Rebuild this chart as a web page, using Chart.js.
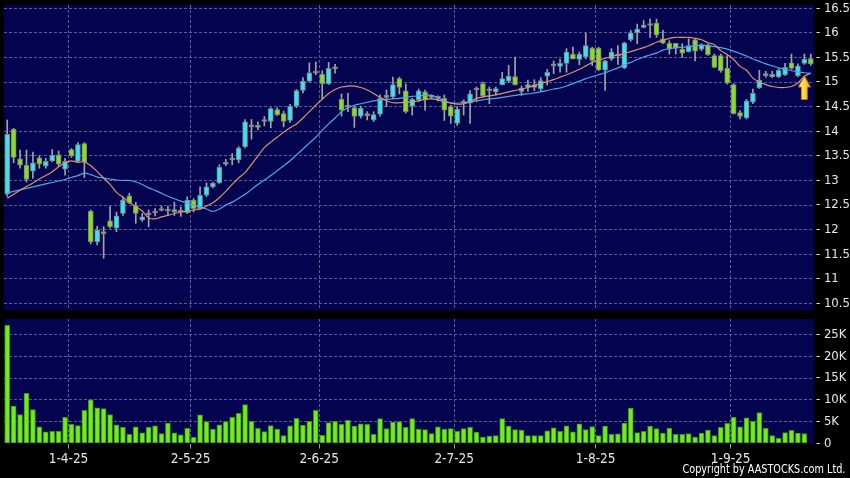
<!DOCTYPE html>
<html>
<head>
<meta charset="utf-8">
<script src="https://cdn.jsdelivr.net/npm/chart.js@4.4.1/dist/chart.umd.min.js"></script>
<style>
  html, body { margin: 0; padding: 0; background: #000; }
  body { width: 850px; height: 478px; position: relative; overflow: hidden; }
  #priceChart { position: absolute; left: 0; top: 0; }
  #volumeChart { position: absolute; left: 0; top: 314px; }
  #copy {
    position: absolute; right: 5px; top: 461px; color: #fff;
    font: 12.5px "DejaVu Sans Condensed", "DejaVu Sans", sans-serif;
    transform: scaleX(0.86); transform-origin: right top; white-space: nowrap;
  }
</style>
</head>
<body>
<canvas id="priceChart" width="850" height="312"></canvas>
<canvas id="volumeChart" width="850" height="164"></canvas>
<div id="copy">Copyright by AASTOCKS.com Ltd.</div>
<script>
// daily OHLC (126 sessions)
const opens = [
  12.72, 14.04, 13.44, 13.31, 13.19, 13.46, 13.29, 13.40, 13.52, 13.23,
  13.63, 13.39, 13.75, 12.38, 11.75, 11.92, 12.18, 12.03, 12.33, 12.69,
  12.49, 12.20, 12.30, 12.34, 12.39, 12.38, 12.36, 12.36, 12.34, 12.60,
  12.43, 12.70, 12.87, 12.95, 13.33, 13.42, 13.42, 13.69, 14.09, 14.12,
  14.20, 14.20, 14.44, 14.36, 14.22, 14.51, 14.83, 15.02, 15.18, 15.16,
  14.97, 15.28, 14.65, 14.49, 14.48, 14.31, 14.32, 14.23, 14.35, 14.69,
  14.70, 15.07, 14.82, 14.51, 14.64, 14.80, 14.69, 14.67, 14.67, 14.50,
  14.16, 14.57, 14.57, 14.84, 14.97, 14.82, 14.80, 14.95, 15.02, 15.11,
  14.81, 14.89, 14.89, 14.86, 15.12, 15.33, 15.32, 15.38, 15.57, 15.46,
  15.51, 15.69, 15.69, 15.24, 15.47, 15.53, 15.29, 15.86, 16.00, 16.11,
  16.15, 16.20, 15.88, 15.79, 15.79, 15.67, 15.62, 15.86, 15.67, 15.76,
  15.54, 15.54, 15.28, 14.95, 14.38, 14.27, 14.59, 14.88, 15.13, 15.11,
  15.11, 15.15, 15.39, 15.13, 15.38, 15.48
];
const highs = [
  14.23, 14.06, 13.62, 13.62, 13.58, 13.50, 13.45, 13.63, 13.60, 13.45,
  13.65, 13.77, 13.77, 12.40, 12.07, 12.06, 12.47, 12.36, 12.67, 12.74,
  12.56, 12.33, 12.40, 12.43, 12.48, 12.48, 12.56, 12.46, 12.67, 12.63,
  12.87, 12.95, 12.97, 13.32, 13.43, 13.55, 13.69, 14.24, 14.24, 14.19,
  14.30, 14.48, 14.48, 14.41, 14.55, 14.85, 15.09, 15.39, 15.41, 15.23,
  15.40, 15.36, 14.76, 14.77, 14.51, 14.51, 14.40, 14.40, 14.74, 14.84,
  15.10, 15.10, 14.96, 14.67, 14.86, 14.84, 14.74, 14.72, 14.74, 14.53,
  14.50, 14.64, 14.83, 14.90, 15.00, 14.90, 14.90, 15.20, 15.34, 15.51,
  14.92, 15.04, 15.05, 15.09, 15.26, 15.43, 15.47, 15.68, 15.71, 15.61,
  15.99, 15.71, 15.71, 15.44, 15.68, 15.74, 15.81, 16.05, 16.18, 16.25,
  16.28, 16.28, 16.05, 15.84, 15.79, 15.78, 15.88, 15.88, 15.78, 15.78,
  15.57, 15.57, 15.54, 14.97, 14.42, 14.65, 14.86, 15.24, 15.22, 15.22,
  15.27, 15.38, 15.57, 15.37, 15.57, 15.57
];
const lows = [
  12.68, 13.36, 13.25, 12.97, 13.04, 13.25, 13.25, 13.38, 13.28, 13.11,
  13.47, 13.38, 13.06, 11.71, 11.69, 11.42, 12.03, 11.96, 12.29, 12.53,
  12.13, 12.17, 12.06, 12.28, 12.38, 12.29, 12.29, 12.27, 12.33, 12.36,
  12.41, 12.67, 12.85, 12.94, 13.30, 13.32, 13.36, 13.66, 13.84, 14.03,
  14.11, 14.07, 14.32, 14.09, 14.18, 14.48, 14.78, 15.00, 15.15, 14.65,
  14.95, 15.18, 14.31, 14.40, 14.08, 14.27, 14.23, 14.20, 14.31, 14.50,
  14.67, 14.76, 14.37, 14.33, 14.61, 14.43, 14.66, 14.62, 14.22, 14.16,
  14.12, 14.33, 14.16, 14.60, 14.69, 14.56, 14.74, 14.94, 14.99, 14.94,
  14.73, 14.81, 14.83, 14.81, 14.94, 15.17, 15.20, 15.20, 15.47, 15.35,
  15.47, 15.34, 15.23, 14.83, 15.44, 15.36, 15.27, 15.83, 15.78, 16.10,
  15.91, 15.91, 15.78, 15.57, 15.57, 15.50, 15.61, 15.43, 15.64, 15.54,
  15.29, 15.20, 14.96, 14.35, 14.25, 14.25, 14.56, 14.87, 15.10, 15.09,
  15.09, 15.13, 15.26, 15.11, 15.36, 15.34
];
const closes = [
  13.94, 13.47, 13.31, 13.02, 13.36, 13.33, 13.39, 13.51, 13.33, 13.39,
  13.50, 13.73, 13.38, 11.75, 11.99, 11.93, 12.06, 12.28, 12.60, 12.55,
  12.33, 12.26, 12.33, 12.35, 12.41, 12.39, 12.41, 12.37, 12.60, 12.43,
  12.70, 12.87, 12.95, 13.27, 13.37, 13.43, 13.66, 14.19, 14.09, 14.08,
  14.21, 14.46, 14.34, 14.20, 14.51, 14.83, 15.02, 15.19, 15.19, 14.97,
  15.28, 15.27, 14.43, 14.52, 14.30, 14.47, 14.33, 14.34, 14.67, 14.71,
  14.95, 14.89, 14.40, 14.65, 14.82, 14.64, 14.70, 14.68, 14.43, 14.31,
  14.45, 14.58, 14.76, 14.85, 14.72, 14.83, 14.87, 15.07, 15.12, 14.95,
  14.88, 14.95, 14.95, 15.03, 15.20, 15.35, 15.38, 15.61, 15.47, 15.57,
  15.74, 15.44, 15.25, 15.43, 15.61, 15.55, 15.80, 16.00, 16.08, 16.16,
  16.16, 15.96, 15.79, 15.67, 15.69, 15.59, 15.74, 15.63, 15.76, 15.56,
  15.30, 15.23, 14.98, 14.36, 14.30, 14.62, 14.77, 15.04, 15.15, 15.16,
  15.24, 15.30, 15.28, 15.33, 15.47, 15.37
];

// moving averages as drawn (orange = short, blue = long)
const maShort = [
  12.64, 12.72, 12.80, 12.88, 12.95, 13.03, 13.10, 13.18, 13.28, 13.36,
  13.40, 13.37, 13.38, 13.30, 13.18, 13.05, 12.92, 12.76, 12.66, 12.56,
  12.47, 12.38, 12.24, 12.22, 12.26, 12.29, 12.33, 12.36, 12.38, 12.40,
  12.42, 12.48, 12.55, 12.65, 12.78, 12.92, 13.05, 13.16, 13.33, 13.50,
  13.67, 13.78, 13.88, 13.98, 14.07, 14.15, 14.27, 14.40, 14.53, 14.65,
  14.77, 14.85, 14.90, 14.92, 14.92, 14.89, 14.84, 14.77, 14.69, 14.62,
  14.58, 14.58, 14.59, 14.60, 14.62, 14.65, 14.66, 14.64, 14.60, 14.57,
  14.55, 14.56, 14.60, 14.67, 14.70, 14.72, 14.74, 14.77, 14.80, 14.83,
  14.86, 14.89, 14.93, 14.97, 15.01, 15.05, 15.10, 15.15, 15.20, 15.26,
  15.33, 15.40, 15.45, 15.48, 15.52, 15.55, 15.58, 15.62, 15.66, 15.70,
  15.75, 15.81, 15.85, 15.89, 15.91, 15.91, 15.91, 15.89, 15.86, 15.80,
  15.76, 15.64, 15.56, 15.46, 15.32, 15.24, 15.08, 15.00, 14.95, 14.91,
  14.89, 14.89, 14.91, 14.98, 15.12, 15.18
];
const maLong = [
  12.75, 12.78, 12.81, 12.84, 12.87, 12.90, 12.93, 12.96, 12.99, 13.02,
  13.06, 13.10, 13.15, 13.12, 13.07, 13.05, 13.03, 13.01, 13.00, 13.00,
  12.97, 12.92, 12.85, 12.80, 12.74, 12.68, 12.63, 12.58, 12.54, 12.50,
  12.46, 12.42, 12.37, 12.42, 12.50, 12.56, 12.64, 12.72, 12.82, 12.92,
  13.01, 13.10, 13.20, 13.30, 13.40, 13.52, 13.64, 13.76, 13.88, 14.02,
  14.15, 14.27, 14.40, 14.48, 14.53, 14.56, 14.59, 14.62, 14.64, 14.65,
  14.66, 14.67, 14.69, 14.71, 14.72, 14.73, 14.73, 14.68, 14.62, 14.58,
  14.57, 14.58, 14.60, 14.62, 14.64, 14.66, 14.67, 14.69, 14.71, 14.73,
  14.75, 14.76, 14.78, 14.80, 14.83, 14.86, 14.88, 14.92, 14.97, 15.02,
  15.07, 15.11, 15.15, 15.19, 15.24, 15.29, 15.35, 15.40, 15.46, 15.51,
  15.55, 15.59, 15.65, 15.68, 15.70, 15.71, 15.72, 15.74, 15.75, 15.74,
  15.72, 15.70, 15.67, 15.63, 15.58, 15.53, 15.47, 15.42, 15.37, 15.33,
  15.29, 15.26, 15.23, 15.21, 15.19, 15.18
];

// volume in thousands of shares (last session has no bar yet)
const volumesK = [
  27.1, 8.56, 6.65, 11.5, 7.8, 3.8, 2.7, 2.8, 2.8, 6.0,
  4.4, 4.1, 7.6, 10.0, 8.2, 8.0, 6.65, 4.3, 3.7, 2.1,
  3.8, 2.45, 3.7, 4.05, 2.3, 4.7, 2.45, 2.0, 3.5, 1.4,
  6.6, 5.0, 3.3, 4.3, 5.0, 6.0, 6.9, 8.9, 5.1, 3.5,
  2.75, 4.1, 3.3, 1.8, 4.05, 5.8, 4.2, 5.1, 7.6, 1.9,
  4.8, 5.1, 4.4, 5.3, 4.0, 4.5, 4.4, 2.1, 5.7, 3.4,
  4.9, 5.0, 3.7, 5.7, 3.3, 3.2, 2.3, 3.8, 3.3, 3.4,
  2.8, 3.4, 3.7, 2.6, 1.5, 1.7, 1.8, 5.7, 4.0, 3.2,
  3.1, 1.8, 1.8, 1.8, 2.9, 3.6, 2.8, 4.05, 2.7, 4.5,
  3.2, 3.9, 1.8, 4.0, 2.1, 2.2, 4.7, 8.1, 2.5, 2.8,
  4.0, 3.4, 2.4, 3.5, 2.1, 2.1, 2.3, 1.45, 2.4, 3.1,
  1.8, 3.7, 4.6, 6.0, 3.8, 5.9, 5.1, 7.1, 3.5, 1.8,
  1.2, 2.5, 3.0, 2.4, 2.3
];

const priceTicks = [10.5, 11, 11.5, 12, 12.5, 13, 13.5, 14, 14.5, 15, 15.5, 16, 16.5];
const volumeTicks = [0, 5, 10, 15, 20, 25];
const dateTickIndex = [10, 29, 49, 70, 92, 113];
const dateTickText = ["1-4-25", "2-5-25", "2-6-25", "2-7-25", "1-8-25", "1-9-25"];
const arrowIndex = 124;
const arrowPrice = 14.89;

const labels = closes.map((_, i) => String(i));

const colors = {
  panel: "#03034f",
  grid: "#5a5a98",
  up: "#38e4f0",
  down: "#86e01c",
  doji: "#a0a0a0",
  candleEdge: "#808080",
  wick: "#a4a4a4",
  maShort: "#e0906a",
  maLong: "#4aa8e8",
  volume: "#70ee1c",
  volumeEdge: "#3f8f12",
  text: "#e6e6e6",
};
const fontFamily = "'DejaVu Sans Condensed', 'DejaVu Sans', sans-serif";

// navy plot background
const panelBg = {
  id: "panelBg",
  beforeDraw(chart) {
    const { ctx, chartArea: a } = chart;
    ctx.save();
    ctx.fillStyle = colors.panel;
    ctx.fillRect(a.left, a.top, a.right - a.left, a.bottom - a.top);
    ctx.restore();
  },
};

function makeArrow() {
  const c = document.createElement("canvas");
  c.width = 13;
  c.height = 25;
  const g = c.getContext("2d");
  const grad = g.createLinearGradient(0, 0, 13, 0);
  grad.addColorStop(0, "#fff59a");
  grad.addColorStop(1, "#f0b000");
  g.fillStyle = grad;
  g.strokeStyle = "#b07800";
  g.lineWidth = 1;
  g.beginPath();
  g.moveTo(6.5, 0.5);
  g.lineTo(12.5, 12);
  g.lineTo(9.5, 12);
  g.lineTo(9.5, 24.5);
  g.lineTo(3.5, 24.5);
  g.lineTo(3.5, 12);
  g.lineTo(0.5, 12);
  g.closePath();
  g.fill();
  g.stroke();
  return c;
}

const dateGrid = (ctx) => (dateTickIndex.includes(ctx.index) ? colors.grid : "transparent");
const dateTick = (ctx) => (dateTickIndex.includes(ctx.index) ? "#9a9a9a" : "transparent");

function xAxis(showLabels) {
  return {
    offset: true,
    grid: {
      offset: true,
      color: dateGrid,
      lineWidth: 1,
      drawTicks: showLabels,
      tickLength: 5,
      tickColor: dateTick,
    },
    border: { display: false, dash: [3, 2] },
    ticks: {
      display: showLabels,
      autoSkip: false,
      maxRotation: 0,
      labelOffset: -3,
      padding: 3,
      color: colors.text,
      font: { family: fontFamily, size: 13.5 },
      callback: (value, index) => {
        const k = dateTickIndex.indexOf(index);
        return k >= 0 ? dateTickText[k] : "";
      },
    },
    afterFit: (axis) => {
      axis.height = showLabels ? 22 : 0;
      axis.paddingLeft = 0;
      axis.paddingRight = 0;
    },
  };
}

function yAxis(min, max, tickList, fmt) {
  return {
    position: "right",
    min,
    max,
    afterBuildTicks: (axis) => {
      axis.ticks = tickList.map((v) => ({ value: v }));
    },
    grid: {
      color: (ctx) => (ctx.tick && ctx.tick.value === 0 ? "transparent" : colors.grid),
      drawTicks: false,
    },
    border: { display: false, dash: [3, 2] },
    ticks: { color: colors.text, font: { family: fontFamily, size: 13 }, padding: 2, callback: fmt },
    afterFit: (axis) => {
      axis.width = 36;
      axis.paddingTop = 0;
      axis.paddingBottom = 0;
    },
  };
}

const bodyColors = opens.map((o, i) =>
  Math.abs(closes[i] - o) < 0.03 ? colors.doji : closes[i] > o ? colors.up : colors.down
);

new Chart(document.getElementById("priceChart").getContext("2d"), {
  type: "bar",
  data: {
    labels,
    datasets: [
      {
        type: "line",
        label: "arrow",
        data: labels.map((_, i) => (i === arrowIndex ? arrowPrice : null)),
        showLine: false,
        pointStyle: makeArrow(),
        pointRadius: 10,
        order: 0,
      },
      {
        type: "line",
        label: "MA short",
        data: maShort,
        borderColor: colors.maShort,
        borderWidth: 1.2,
        pointRadius: 0,
        tension: 0.3,
        order: 1,
      },
      {
        type: "line",
        label: "MA long",
        data: maLong,
        borderColor: colors.maLong,
        borderWidth: 1.2,
        pointRadius: 0,
        tension: 0.3,
        order: 1,
      },
      {
        label: "body",
        data: opens.map((o, i) => [o, closes[i]]),
        backgroundColor: bodyColors,
        borderColor: colors.candleEdge,
        borderWidth: 1,
        borderSkipped: false,
        barThickness: 5,
        minBarLength: 2,
        grouped: false,
        order: 2,
      },
      {
        label: "wick",
        data: lows.map((l, i) => [l, highs[i]]),
        backgroundColor: colors.wick,
        borderWidth: 0,
        barThickness: 1,
        grouped: false,
        order: 3,
      },
    ],
  },
  options: {
    responsive: false,
    animation: false,
    layout: { autoPadding: false, padding: { top: 5, left: 4, right: 0, bottom: 2 } },
    plugins: { legend: { display: false }, tooltip: { enabled: false } },
    scales: {
      x: xAxis(false),
      y: yAxis(10.368, 16.567, priceTicks, (v) => "- " + v),
    },
  },
  plugins: [panelBg],
});

new Chart(document.getElementById("volumeChart").getContext("2d"), {
  type: "bar",
  data: {
    labels,
    datasets: [
      {
        label: "Volume",
        data: volumesK,
        backgroundColor: colors.volume,
        borderColor: colors.volumeEdge,
        borderWidth: 1,
        borderSkipped: false,
        barThickness: 5,
      },
    ],
  },
  options: {
    responsive: false,
    animation: false,
    layout: { autoPadding: false, padding: { top: 5, left: 4, right: 0, bottom: 12.5 } },
    plugins: { legend: { display: false }, tooltip: { enabled: false } },
    scales: {
      x: xAxis(true),
      y: yAxis(0, 28.55, volumeTicks, (v) => (v === 0 ? "- 0" : "- " + v + "K")),
    },
  },
  plugins: [panelBg],
});
</script>
</body>
</html>
